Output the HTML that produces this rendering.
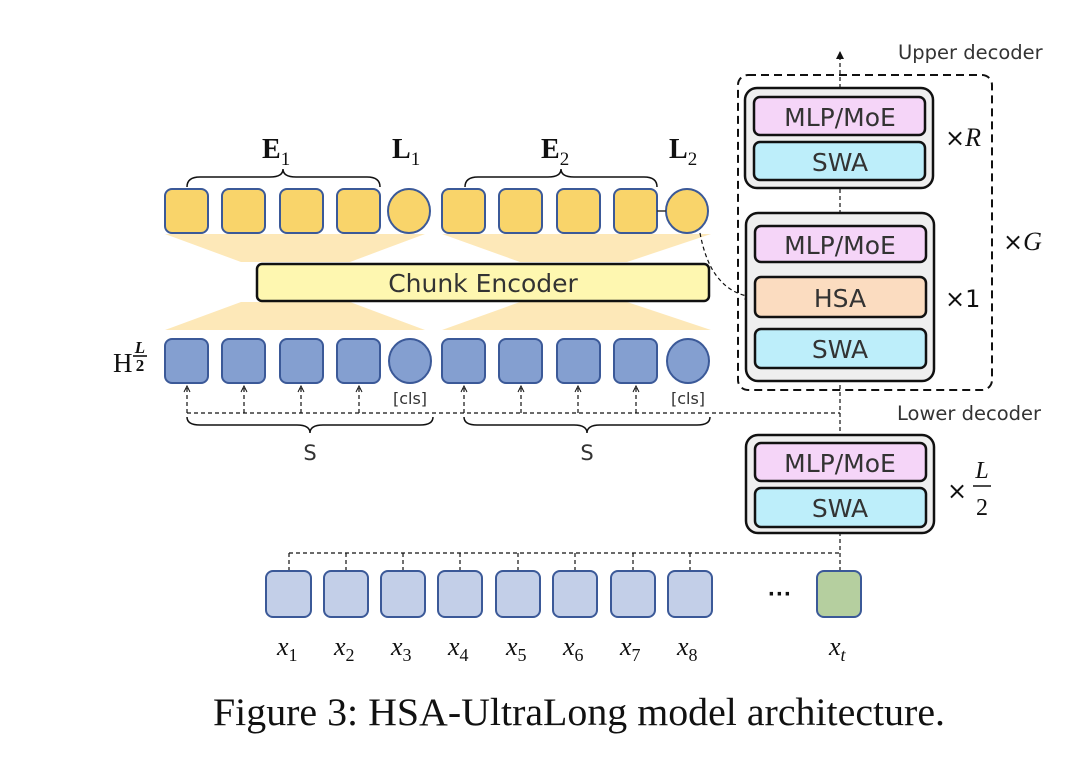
<!DOCTYPE html>
<html><head><meta charset="utf-8"><style>
body{margin:0;background:#fff}
svg{display:block}
.s{font-family:"DejaVu Sans","Liberation Sans",sans-serif;fill:#333}
.m{font-family:"Liberation Serif",serif;font-style:italic;fill:#111}
</style></head><body>
<svg width="1074" height="766" viewBox="0 0 1074 766" xmlns="http://www.w3.org/2000/svg">
<defs>
<marker id="a" markerWidth="8" markerHeight="8" refX="7" refY="4" orient="auto" markerUnits="userSpaceOnUse"><path d="M0,0 L8,4 L0,8 z" fill="#111"/></marker>
<marker id="o" markerWidth="8" markerHeight="8" refX="7" refY="4" orient="auto" markerUnits="userSpaceOnUse"><path d="M1,1 L7,4 L1,7" fill="none" stroke="#111" stroke-width="1"/></marker>
</defs>
<g fill="#fde8b8">
<polygon points="165,234 425,234 350,262 241,262"/>
<polygon points="442,234 711,234 627,262 520,262"/>
<polygon points="241,302 350,302 425,330 165,330"/>
<polygon points="520,302 627,302 711,330 442,330"/>
</g>
<rect x="257" y="264" width="452" height="37" rx="5" fill="#fef7b0" stroke="#111" stroke-width="2.5"/>
<text x="483" y="292" class="s" font-size="25" text-anchor="middle" fill="#222">Chunk Encoder</text>
<g fill="#f9d46a" stroke="#3b5998" stroke-width="2">
<rect x="165" y="189" width="43" height="44" rx="7"/><rect x="222" y="189" width="43" height="44" rx="7"/>
<rect x="280" y="189" width="43" height="44" rx="7"/><rect x="337" y="189" width="43" height="44" rx="7"/>
<ellipse cx="409" cy="211" rx="21" ry="22"/>
<rect x="442" y="189" width="43" height="44" rx="7"/><rect x="499" y="189" width="43" height="44" rx="7"/>
<rect x="557" y="189" width="43" height="44" rx="7"/><rect x="614" y="189" width="43" height="44" rx="7"/>
<ellipse cx="687" cy="211" rx="21" ry="22"/>
</g>
<line x1="657" y1="211" x2="666" y2="211" stroke="#333" stroke-width="1.5"/>
<g fill="#849fd0" stroke="#3b5998" stroke-width="2">
<rect x="165" y="339" width="43" height="44" rx="7"/><rect x="222" y="339" width="43" height="44" rx="7"/>
<rect x="280" y="339" width="43" height="44" rx="7"/><rect x="337" y="339" width="43" height="44" rx="7"/>
<ellipse cx="410" cy="361" rx="21" ry="22"/>
<rect x="442" y="339" width="43" height="44" rx="7"/><rect x="499" y="339" width="43" height="44" rx="7"/>
<rect x="557" y="339" width="43" height="44" rx="7"/><rect x="614" y="339" width="43" height="44" rx="7"/>
<ellipse cx="688" cy="361" rx="21" ry="22"/>
</g>
<text x="410" y="404" class="s" font-size="16" text-anchor="middle" fill="#111">[cls]</text>
<text x="688" y="404" class="s" font-size="16" text-anchor="middle" fill="#111">[cls]</text>
<g fill="none" stroke="#111" stroke-width="1.5">
<path d="M187,187 Q187,177 200,177 L270,177 Q283,177 283,169 Q283,177 296,177 L367,177 Q380,177 380,187"/>
<path d="M465,187 Q465,177 478,177 L548,177 Q561,177 561,169 Q561,177 574,177 L644,177 Q657,177 657,187"/>
<path d="M187,417 Q187,425 200,425 L297,425 Q310,425 310,433 Q310,425 323,425 L420,425 Q433,425 433,417"/>
<path d="M464,417 Q464,425 477,425 L574,425 Q587,425 587,433 Q587,425 600,425 L697,425 Q710,425 710,417"/>
</g>
<g font-family="Liberation Serif,serif" font-weight="bold" fill="#111" font-size="28">
<text x="262" y="158">E<tspan font-size="19" font-weight="normal" dy="7">1</tspan></text>
<text x="392" y="158">L<tspan font-size="19" font-weight="normal" dy="7">1</tspan></text>
<text x="541" y="158">E<tspan font-size="19" font-weight="normal" dy="7">2</tspan></text>
<text x="669" y="158">L<tspan font-size="19" font-weight="normal" dy="7">2</tspan></text>
</g>
<text x="310" y="460" class="s" font-size="21" text-anchor="middle" fill="#111">S</text>
<text x="587" y="460" class="s" font-size="21" text-anchor="middle" fill="#111">S</text>
<text x="113" y="372" font-family="Liberation Serif,serif" font-size="27" fill="#111">H</text>
<text x="140" y="353" class="m" font-size="17" text-anchor="middle" font-weight="bold">L</text>
<line x1="133" y1="356" x2="147" y2="356" stroke="#111" stroke-width="1.6"/>
<text x="140" y="371" font-family="Liberation Serif,serif" font-size="17" text-anchor="middle" font-weight="bold" fill="#111">2</text>
<g fill="none" stroke="#111" stroke-width="1.2" stroke-dasharray="4,3">
<line x1="187" y1="413" x2="840" y2="413"/>
<line x1="187" y1="413" x2="187" y2="386" marker-end="url(#o)"/>
<line x1="244" y1="413" x2="244" y2="386" marker-end="url(#o)"/>
<line x1="301" y1="413" x2="301" y2="386" marker-end="url(#o)"/>
<line x1="359" y1="413" x2="359" y2="386" marker-end="url(#o)"/>
<line x1="464" y1="413" x2="464" y2="386" marker-end="url(#o)"/>
<line x1="521" y1="413" x2="521" y2="386" marker-end="url(#o)"/>
<line x1="578" y1="413" x2="578" y2="386" marker-end="url(#o)"/>
<line x1="636" y1="413" x2="636" y2="386" marker-end="url(#o)"/>
<line x1="840" y1="571" x2="840" y2="52" marker-end="url(#a)"/>
<path d="M700,233 Q706,265 720,280 Q732,294 752,297" marker-end="url(#a)"/>
<line x1="289" y1="553" x2="840" y2="553"/>
<line x1="289" y1="553" x2="289" y2="571"/><line x1="346" y1="553" x2="346" y2="571"/>
<line x1="403" y1="553" x2="403" y2="571"/><line x1="460" y1="553" x2="460" y2="571"/>
<line x1="518" y1="553" x2="518" y2="571"/><line x1="575" y1="553" x2="575" y2="571"/>
<line x1="633" y1="553" x2="633" y2="571"/><line x1="690" y1="553" x2="690" y2="571"/>
</g>
<rect x="738" y="75" width="254" height="315" rx="10" fill="none" stroke="#111" stroke-width="2" stroke-dasharray="8,5"/>
<g stroke="#111" stroke-width="2.5">
<rect x="745" y="88" width="188" height="100" rx="12" fill="#efefef"/>
<rect x="754" y="97" width="171" height="38" rx="6" fill="#f5d5f8"/>
<rect x="754" y="142" width="171" height="38" rx="6" fill="#bdeefa"/>
<rect x="746" y="213" width="188" height="168" rx="12" fill="#efefef"/>
<rect x="755" y="226" width="171" height="36" rx="6" fill="#f5d5f8"/>
<rect x="755" y="277" width="171" height="40" rx="6" fill="#fbdcc0"/>
<rect x="755" y="329" width="171" height="39" rx="6" fill="#bdeefa"/>
<rect x="746" y="435" width="188" height="98" rx="12" fill="#efefef"/>
<rect x="755" y="443" width="171" height="38" rx="6" fill="#f5d5f8"/>
<rect x="755" y="488" width="171" height="39" rx="6" fill="#bdeefa"/>
</g>
<g class="s" font-size="25" text-anchor="middle">
<text x="840" y="126">MLP/MoE</text><text x="840" y="171">SWA</text>
<text x="840" y="254">MLP/MoE</text><text x="840" y="307">HSA</text><text x="840" y="358">SWA</text>
<text x="840" y="472">MLP/MoE</text><text x="840" y="517">SWA</text>
</g>
<text x="898" y="59" class="s" font-size="19.5" fill="#111">Upper decoder</text>
<text x="897" y="420" class="s" font-size="19.5" fill="#111">Lower decoder</text>
<text x="945" y="146" font-family="DejaVu Sans,sans-serif" font-size="24" fill="#111">×<tspan font-family="Liberation Serif,serif" font-style="italic" font-size="26">R</tspan></text>
<text x="1003" y="250" font-family="DejaVu Sans,sans-serif" font-size="24" fill="#111">×<tspan font-family="Liberation Serif,serif" font-style="italic" font-size="26">G</tspan></text>
<text x="945" y="307" font-family="DejaVu Sans,sans-serif" font-size="24" fill="#111">×1</text>
<text x="947" y="499" font-family="DejaVu Sans,sans-serif" font-size="24" fill="#111">×</text>
<text x="982" y="478" class="m" font-size="24" text-anchor="middle">L</text>
<line x1="973" y1="486" x2="991" y2="486" stroke="#111" stroke-width="1.5"/>
<text x="982" y="515" font-family="Liberation Serif,serif" font-size="24" text-anchor="middle" fill="#111">2</text>
<g fill="#c3cfe8" stroke="#3b5998" stroke-width="2">
<rect x="266" y="571" width="45" height="46" rx="7"/><rect x="324" y="571" width="44" height="46" rx="7"/>
<rect x="381" y="571" width="44" height="46" rx="7"/><rect x="438" y="571" width="44" height="46" rx="7"/>
<rect x="496" y="571" width="44" height="46" rx="7"/><rect x="553" y="571" width="44" height="46" rx="7"/>
<rect x="611" y="571" width="44" height="46" rx="7"/><rect x="668" y="571" width="44" height="46" rx="7"/>
<rect x="817" y="571" width="44" height="46" rx="7" fill="#b5cf9f"/>
</g>
<text x="780" y="602" font-family="Liberation Sans,sans-serif" font-size="24" font-weight="bold" text-anchor="middle" fill="#111">···</text>
<g class="m" font-size="26">
<text x="277" y="655">x<tspan font-style="normal" font-size="18" dy="6">1</tspan></text>
<text x="334" y="655">x<tspan font-style="normal" font-size="18" dy="6">2</tspan></text>
<text x="391" y="655">x<tspan font-style="normal" font-size="18" dy="6">3</tspan></text>
<text x="448" y="655">x<tspan font-style="normal" font-size="18" dy="6">4</tspan></text>
<text x="506" y="655">x<tspan font-style="normal" font-size="18" dy="6">5</tspan></text>
<text x="563" y="655">x<tspan font-style="normal" font-size="18" dy="6">6</tspan></text>
<text x="620" y="655">x<tspan font-style="normal" font-size="18" dy="6">7</tspan></text>
<text x="677" y="655">x<tspan font-style="normal" font-size="18" dy="6">8</tspan></text>
<text x="829" y="655">x<tspan font-size="18" dy="6">t</tspan></text>
</g>
<text x="579" y="725" font-family="Liberation Serif,serif" font-size="39" text-anchor="middle" fill="#111" textLength="732" lengthAdjust="spacingAndGlyphs">Figure 3: HSA-UltraLong model architecture.</text>
</svg>
</body></html>
